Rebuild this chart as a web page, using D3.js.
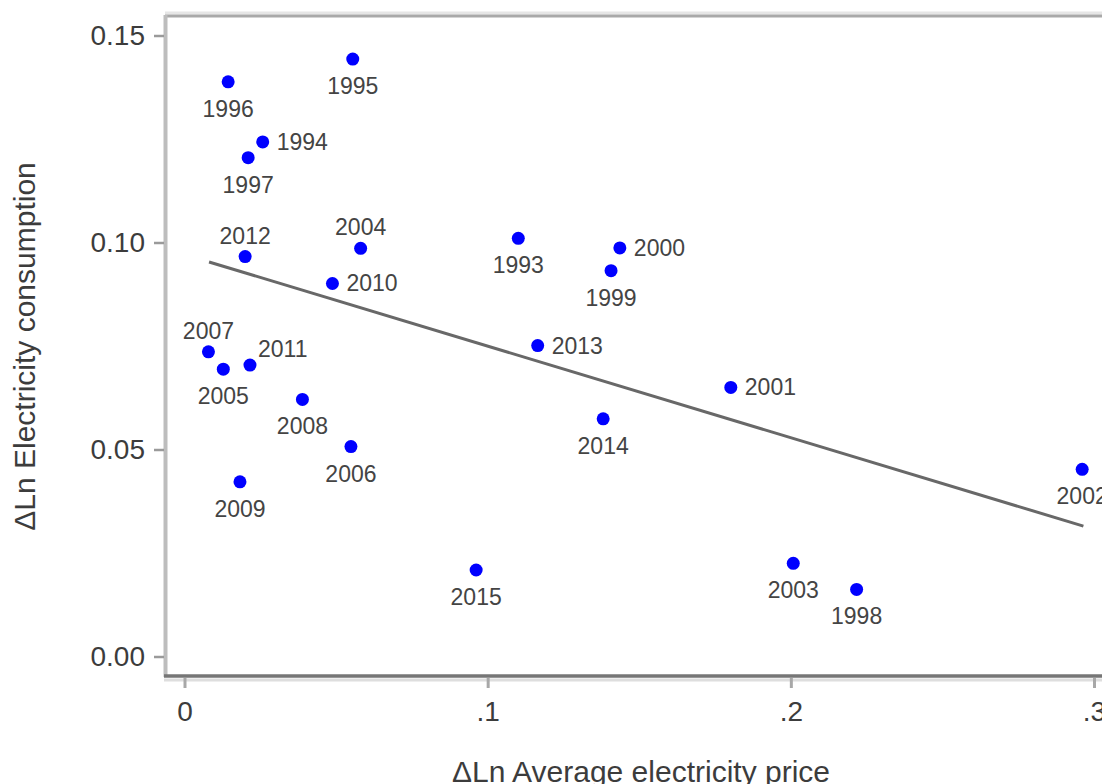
<!DOCTYPE html>
<html>
<head>
<meta charset="utf-8">
<script src="https://cdn.jsdelivr.net/npm/d3@7"></script>
<style>
  html, body { margin: 0; padding: 0; background: #fff; }
  svg { display: block; font-family: "Liberation Sans", Arial, sans-serif; }
</style>
</head>
<body>
<svg id="chart" width="1102" height="784"></svg>
<script>
// ---- data ----
const years = [1993, 1994, 1995, 1996, 1997, 1998, 1999, 2000, 2001, 2002, 2003, 2004,
               2005, 2006, 2007, 2008, 2009, 2010, 2011, 2012, 2013, 2014, 2015];
const priceChange = [0.1101, 0.0258, 0.0555, 0.0144, 0.0210, 0.2217, 0.1407, 0.1436, 0.1802, 0.2961, 0.2008, 0.0581,
                     0.0128, 0.0549, 0.0079, 0.0389, 0.0183, 0.0488, 0.0216, 0.0200, 0.1165, 0.1381, 0.0962];
const consumptionChange = [0.1010, 0.1243, 0.1443, 0.1388, 0.1205, 0.0162, 0.0932, 0.0987, 0.0650, 0.0452, 0.0225, 0.0986,
                           0.0694, 0.0507, 0.0736, 0.0621, 0.0422, 0.0901, 0.0704, 0.0966, 0.0751, 0.0574, 0.0209];
// label position (clock position as in the source): 6 = below, 3 = right, 12 = above, 1 = upper right
const labelPos = [6, 3, 6, 6, 6, 6, 6, 3, 3, 6, 6, 12,
                  6, 6, 12, 6, 6, 3, 1, 12, 3, 6, 6];
// fitted line end points
const fitX = [0.0081, 0.2965];
const fitY = [0.0953, 0.0315];
const xTicks = [0, 0.1, 0.2, 0.3];
const xTickLabels = ["0", ".1", ".2", ".3"];
const yTicks = [0, 0.05, 0.10, 0.15];
const yTickLabels = ["0.00", "0.05", "0.10", "0.15"];
const xTitle = "\u0394Ln Average electricity price";
const yTitle = "\u0394Ln Electricity consumption";

// ---- layout ----
const svg = d3.select("#chart");
const plotLeft = 165, plotTop = 15, plotBottom = 677;
const x = d3.scaleLinear().domain([0, 0.3]).range([184.5, 1094]);
const y = d3.scaleLinear().domain([0, 0.15]).range([656.5, 35.5]);

svg.append("rect").attr("width", 1102).attr("height", 784).attr("fill", "#fff");

// frame
svg.append("line").attr("x1", plotLeft).attr("x2", 1102).attr("y1", plotTop - 2).attr("y2", plotTop - 2)
  .attr("stroke", "#e6e6e6").attr("stroke-width", 3);
svg.append("line").attr("x1", plotLeft).attr("x2", 1102).attr("y1", plotTop + 1).attr("y2", plotTop + 1)
  .attr("stroke", "#a9a9a9").attr("stroke-width", 3);
svg.append("line").attr("x1", plotLeft + 0.5).attr("x2", plotLeft + 0.5).attr("y1", plotTop).attr("y2", plotBottom)
  .attr("stroke", "#bdbdbd").attr("stroke-width", 4);
svg.append("line").attr("x1", plotLeft - 1).attr("x2", 1102).attr("y1", plotBottom + 3).attr("y2", plotBottom + 3)
  .attr("stroke", "#dedede").attr("stroke-width", 3);
svg.append("line").attr("x1", plotLeft - 1).attr("x2", 1102).attr("y1", plotBottom - 1).attr("y2", plotBottom - 1)
  .attr("stroke", "#767676").attr("stroke-width", 3.5);

// y axis
const yAxis = svg.append("g").attr("transform", `translate(${plotLeft - 1},0)`)
  .call(d3.axisLeft(y).tickValues(yTicks).tickFormat((d, i) => yTickLabels[i]).tickSize(10).tickPadding(9));
yAxis.select(".domain").remove();
yAxis.selectAll(".tick line").attr("stroke", "#9a9a9a").attr("stroke-width", 2.5);
yAxis.selectAll(".tick text").attr("font-size", 28).attr("fill", "#3c3c3c")
  .attr("font-family", "Liberation Sans, Arial, sans-serif");

// x axis
const xAxis = svg.append("g").attr("transform", `translate(0,${plotBottom + 1})`)
  .call(d3.axisBottom(x).tickValues(xTicks).tickFormat((d, i) => xTickLabels[i]).tickSize(10).tickPadding(13));
xAxis.select(".domain").remove();
xAxis.selectAll(".tick line").attr("stroke", "#a8a8a8").attr("stroke-width", 3);
xAxis.selectAll(".tick text").attr("font-size", 28).attr("fill", "#3c3c3c")
  .attr("font-family", "Liberation Sans, Arial, sans-serif");

// axis titles
svg.append("text").attr("x", 641).attr("y", 782).attr("text-anchor", "middle")
  .attr("font-size", 30).attr("fill", "#3c3c3c").text(xTitle);
svg.append("text").attr("transform", "translate(35,346.5) rotate(-90)").attr("text-anchor", "middle")
  .attr("font-size", 30).attr("fill", "#3c3c3c").text(yTitle);

// fitted line
svg.append("line")
  .attr("x1", x(fitX[0])).attr("y1", y(fitY[0]))
  .attr("x2", x(fitX[1])).attr("y2", y(fitY[1]))
  .attr("stroke", "#686868").attr("stroke-width", 3);

// points
const pts = years.map((yr, i) => ({ yr, px: priceChange[i], cy: consumptionChange[i], pos: labelPos[i] }));
svg.append("g").selectAll("circle").data(pts).join("circle")
  .attr("cx", d => x(d.px)).attr("cy", d => y(d.cy)).attr("r", 6.5).attr("fill", "#0000ff");

// labels
svg.append("g").selectAll("text").data(pts).join("text")
  .attr("font-size", 23).attr("fill", "#444")
  .attr("x", d => {
    const cx = x(d.px);
    if (d.pos === 3) return cx + 14;
    if (d.pos === 1) return cx + 8;
    return cx;
  })
  .attr("y", d => {
    const cy = y(d.cy);
    if (d.pos === 6) return cy + 35;
    if (d.pos === 12) return cy - 13;
    if (d.pos === 1) return cy - 8;
    return cy + 8;
  })
  .attr("text-anchor", d => (d.pos === 3 || d.pos === 1) ? "start" : "middle")
  .text(d => d.yr);
</script>
</body>
</html>
